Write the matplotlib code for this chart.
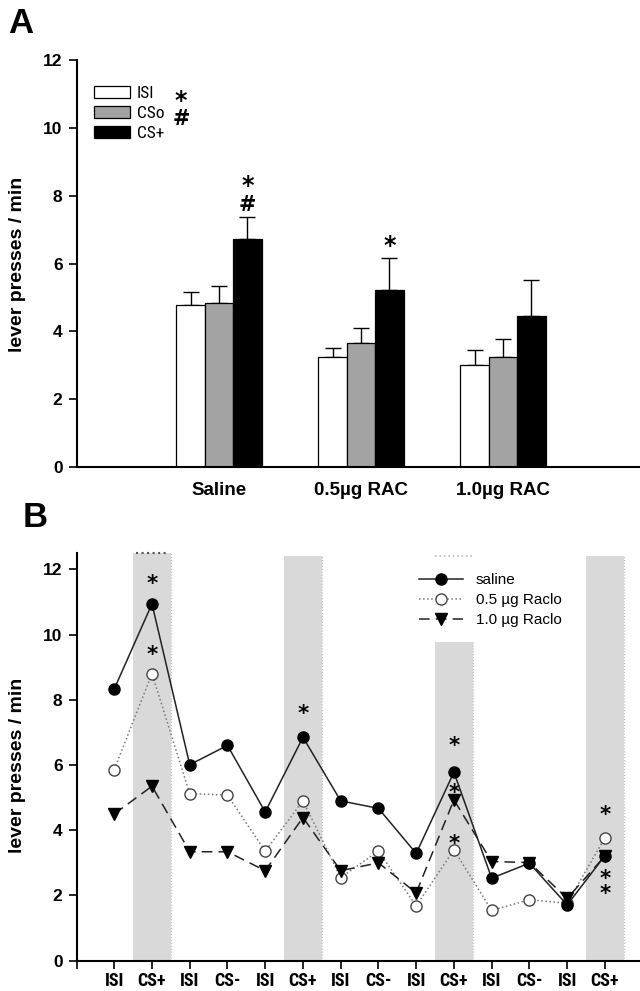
import matplotlib
matplotlib.use('Agg')
import matplotlib.pyplot as plt
import numpy as np
from matplotlib.transforms import offset_copy

# ---------------- data: panel A ----------------
groups = ['Saline', '0.5µg RAC', '1.0µg RAC']
isi_mean = [4.77, 3.25, 3.02]
isi_sem = [0.40, 0.27, 0.42]
cso_mean = [4.85, 3.66, 3.23]
cso_sem = [0.49, 0.44, 0.55]
csp_mean = [6.71, 5.22, 4.45]
csp_sem = [0.67, 0.93, 1.05]
series_a = ['ISI', 'CSo', 'CS+']
# significance marks above CS+ bars: (group index, symbol, y)
sig_a = [(0, '*', 8.40), (0, '#', 7.76), (1, '*', 6.63)]

# ---------------- data: panel B ----------------
trial_labels = ['ISI', 'CS+', 'ISI', 'CS-', 'ISI', 'CS+', 'ISI', 'CS-',
                'ISI', 'CS+', 'ISI', 'CS-', 'ISI', 'CS+']
saline = [8.33, 10.94, 6.01, 6.60, 4.56, 6.85, 4.90, 4.67, 3.29, 5.78, 2.53, 2.99, 1.71, 3.22]
raclo05 = [5.86, 8.80, 5.12, 5.08, 3.36, 4.90, 2.55, 3.36, 1.68, 3.40, 1.54, 1.87, 1.76, 3.77]
raclo10 = [4.50, 5.35, 3.34, 3.34, 2.76, 4.39, 2.76, 3.00, 2.08, 4.93, 3.04, 3.01, 1.91, 3.21]
series_b = ['saline', '0.5 µg Raclo', '1.0 µg Raclo']
shade_idx = [1, 5, 9, 13]
shade_top = [12.5, 12.4, 9.78, 12.4]
sig_b = [(1, 11.66), (1, 9.48), (5, 7.67), (9, 6.70), (9, 5.24), (9, 3.70),
         (13, 4.57), (13, 2.63), (13, 2.17)]

ARIAL = ['Liberation Sans', 'DejaVu Sans']
COND = ['Roboto Condensed', 'Liberation Sans', 'DejaVu Sans']
plt.rcParams['font.family'] = ARIAL

W, H = 640, 991
fig = plt.figure(figsize=(W / 100, H / 100), dpi=100)


def fx(px):
    return px / W


def fy(py):
    return 1 - py / H


def sym(ax, x, y, s, size=17, transform=None):
    tr = transform if transform is not None else ax.transData
    k = 0.45 if s == '*' else 0.36
    tr = offset_copy(tr, fig=fig, x=0, y=-k * size, units='points')
    ax.text(x, y, s, transform=tr, ha='center', va='baseline',
            fontsize=size, fontweight='bold', family=['DejaVu Sans'])


# ================= Panel A =================
axA = fig.add_axes([fx(76.5), fy(467), fx(640) - fx(76.5), fy(60) - fy(467)])
x = np.arange(len(groups))
bw = 0.2
colors = ['white', '#a3a3a3', 'black']
means = [isi_mean, cso_mean, csp_mean]
sems = [isi_sem, cso_sem, csp_sem]
handles = []
for i, (m, s, c, lab) in enumerate(zip(means, sems, colors, series_a)):
    xp = x + (i - 1) * bw
    axA.errorbar(xp, m, yerr=[np.zeros(len(m)), s], fmt='none', ecolor='black',
                 elinewidth=1, capsize=6, capthick=1, zorder=1)
    b = axA.bar(xp, m, width=bw, color=c, edgecolor='black', linewidth=0.9,
                label=lab, zorder=2)
    handles.append(b)

for gi, s, yv in sig_a:
    sym(axA, x[gi] + bw, yv, s, size=17 if s == '*' else 15)

axA.set_xlim(-1.004, 2.965)
axA.set_ylim(0, 12)
axA.set_yticks(range(0, 13, 2))
axA.set_xticks(x)
axA.set_xticklabels(groups, fontsize=13.5, fontweight='bold')
axA.tick_params(axis='x', length=0, pad=11)
axA.tick_params(axis='y', length=6, width=1.2, direction='out', labelsize=12.5, pad=4)
for lbl in axA.get_yticklabels():
    lbl.set_fontweight('bold')
for sp in ['top', 'right']:
    axA.spines[sp].set_visible(False)
for sp in ['left', 'bottom']:
    axA.spines[sp].set_linewidth(1.5)

axA.legend(handles=handles, labels=series_a, loc='upper left',
           bbox_to_anchor=(fx(94), fy(86)), bbox_transform=fig.transFigure,
           frameon=False, prop={'family': COND, 'size': 12.5},
           handlelength=2.07, handleheight=0.69,
           handletextpad=0.4, labelspacing=0.28, borderpad=0, borderaxespad=0)
# legend-side significance symbols
sym(axA, fx(181), fy(97), '*', size=17, transform=fig.transFigure)
sym(axA, fx(181), fy(117.5), '#', size=15, transform=fig.transFigure)

fig.text(fx(18), fy(264), 'lever presses / min', rotation=90, ha='center',
         va='center', fontsize=14, fontweight='bold')
fig.text(fx(8), fy(33), 'A', ha='left', va='baseline', fontsize=25,
         fontweight='bold')

# ================= Panel B =================
axB = fig.add_axes([fx(76.5), fy(960.7), fx(640) - fx(76.5), fy(553) - fy(960.7)])
xb = np.arange(len(trial_labels))
for si, top in zip(shade_idx, shade_top):
    axB.fill_between([si - 0.5, si + 0.5], 0, top, color='#d9d9d9',
                     linewidth=0, zorder=0)
    axB.plot([si + 0.5, si + 0.5], [0, top], color='#bbbbbb', lw=0.8,
             ls=':', zorder=0)
axB.plot([0.58, 1.42], [12.5, 12.5], color='#555555', lw=1.5, ls=':',
         clip_on=False, zorder=0)
axB.plot([8.5, 9.5], [12.4, 12.4], color='#bbbbbb', lw=1.2, ls=':',
         zorder=0)

axB.plot(xb, raclo05, ls=':', color='#777777', lw=1.1, marker='o', ms=8,
         mfc='white', mec='#444444', mew=1.0, label=series_b[1], zorder=3)
axB.plot(xb, raclo10, ls=(0, (7, 4)), color='#222222', lw=1.1, marker='v',
         ms=8, mfc='black', mec='black', label=series_b[2], zorder=3)
axB.plot(xb, saline, ls='-', color='#222222', lw=1.1, marker='o', ms=8,
         mfc='black', mec='black', label=series_b[0], zorder=4)

for xi, yv in sig_b:
    sym(axB, xi, yv, '*', size=15.5)

axB.set_xlim(-1.0, 13.93)
axB.set_ylim(0, 12.5)
axB.set_yticks(range(0, 13, 2))
axB.set_xticks(np.concatenate([[-1.0], xb]))
axB.set_xticklabels([''] + trial_labels, fontsize=13, fontweight='bold',
                    family=COND)
axB.tick_params(axis='x', length=6, width=1.2, direction='out', pad=2)
axB.tick_params(axis='y', length=6, width=1.2, direction='out', labelsize=12.5, pad=4)
for lbl in axB.get_yticklabels():
    lbl.set_fontweight('bold')
for sp in ['top', 'right']:
    axB.spines[sp].set_visible(False)
for sp in ['left', 'bottom']:
    axB.spines[sp].set_linewidth(1.5)

hl = axB.get_legend_handles_labels()
order = [2, 0, 1]
axB.legend([hl[0][i] for i in order], [hl[1][i] for i in order],
           loc='upper left', bbox_to_anchor=(fx(419), fy(573)),
           bbox_transform=fig.transFigure, frameon=False, fontsize=11,
           handlelength=2.9, handletextpad=0.8, labelspacing=0.39,
           borderpad=0, borderaxespad=0, numpoints=1)

fig.text(fx(18), fy(765), 'lever presses / min', rotation=90, ha='center',
         va='center', fontsize=14, fontweight='bold')
fig.text(fx(23), fy(527), 'B', ha='left', va='baseline', fontsize=25,
         fontweight='bold')

fig.savefig('out.png', dpi=100)
